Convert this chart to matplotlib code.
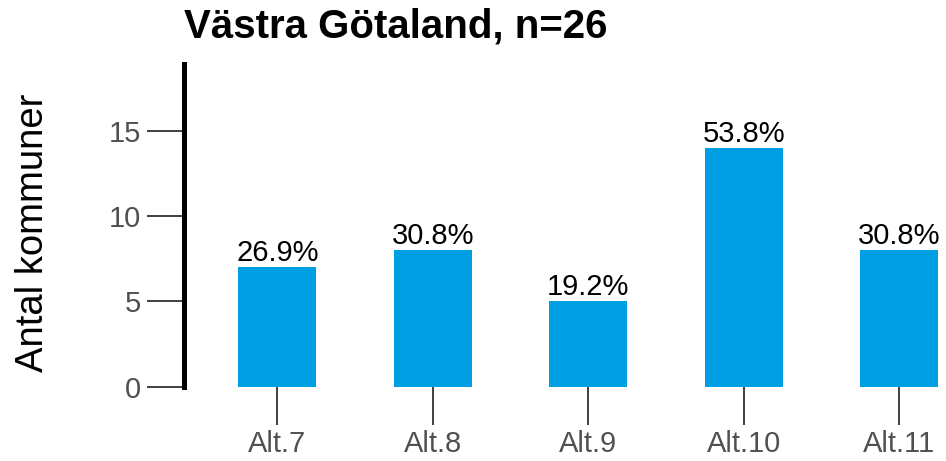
import matplotlib
matplotlib.use("Agg")
import matplotlib.pyplot as plt

# data
kategorier = ["Alt.7", "Alt.8", "Alt.9", "Alt.10", "Alt.11"]
antal = [7, 8, 5, 14, 8]
n = 26
procent = ["26.9%", "30.8%", "19.2%", "53.8%", "30.8%"]
y_ticks = [0, 5, 10, 15]

plt.rcParams["font.family"] = ["Liberation Sans", "DejaVu Sans"]

fig = plt.figure(figsize=(9.46, 4.61), dpi=100)
ax = fig.add_axes([0.1945, 0.161, 0.8055, 0.700])

x = list(range(len(kategorier)))
ax.bar(x, antal, width=0.5, color="#009fe3")

# procent ovanför staplarna
for xi, yi, txt in zip(x, antal, procent):
    ax.annotate(txt, (xi, yi), xytext=(0, 0), textcoords="offset points",
                ha="center", va="bottom", fontsize=21, color="black")

ax.set_xlim(-0.6, 4.3)
ax.set_ylim(0, 18.9)
ax.set_xticks(x)
ax.set_xticklabels(kategorier)
ax.set_yticks(y_ticks)

for s in ["top", "right", "bottom"]:
    ax.spines[s].set_visible(False)
ax.spines["left"].set_linewidth(3.6)
ax.spines["left"].set_color("black")

ax.tick_params(axis="both", length=27, width=1.4, color="#404040",
               labelsize=21, labelcolor="#505050")
ax.tick_params(axis="y", pad=4)
ax.tick_params(axis="x", pad=4)

ax.set_ylabel("Antal kommuner", fontsize=27.5, color="black")
ax.yaxis.set_label_coords(-0.1745, 0.476)

fig.text(396 / 946, 1 - 37 / 461, f"Västra Götaland, n={n}", ha="center", va="baseline",
         fontsize=29, fontweight="bold", color="black")

fig.savefig("out.png", dpi=100)
